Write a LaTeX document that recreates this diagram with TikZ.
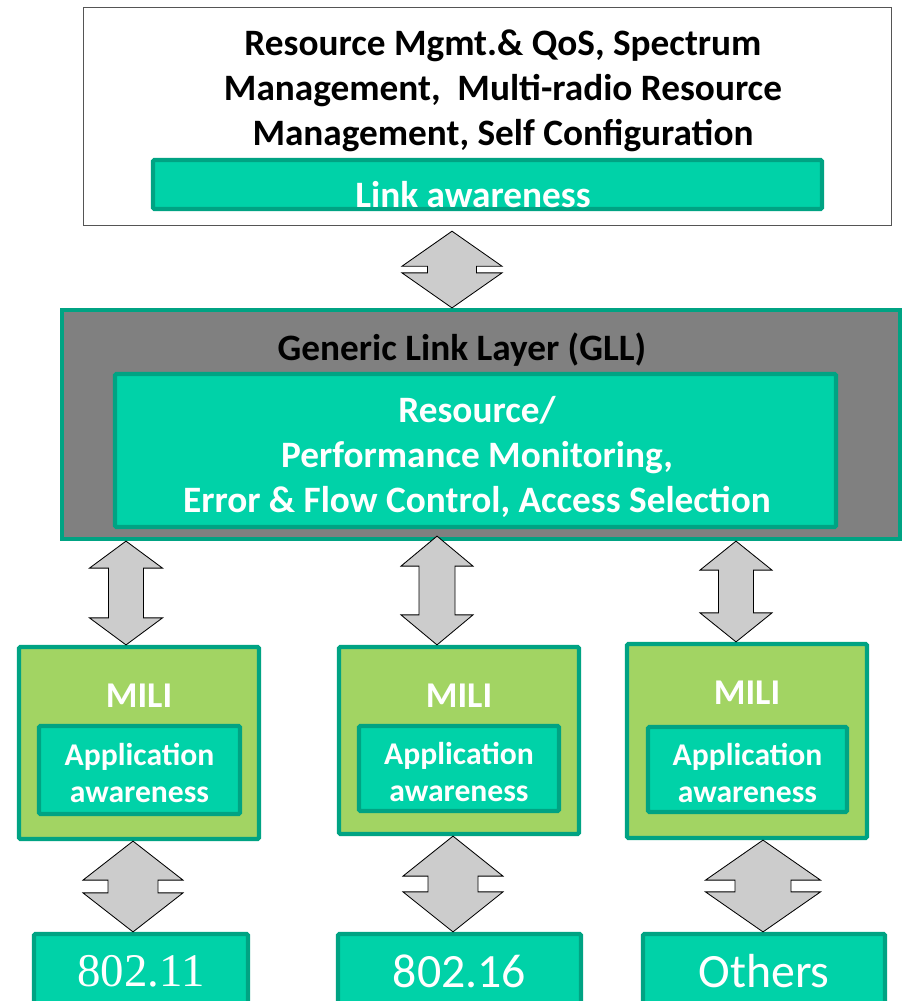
\documentclass[tikz,border=0pt]{standalone}
\usepackage{fontspec}
\setmainfont{Carlito}
\newfontfamily\timesfont{Liberation Serif}
\usetikzlibrary{positioning,calc}

\definecolor{tealfill}{HTML}{00D2A8}
\definecolor{tealdark}{HTML}{00A383}
\definecolor{miligreen}{HTML}{A2D463}
\definecolor{gllgrey}{HTML}{808080}
\definecolor{arrowgrey}{HTML}{CCCCCC}
\definecolor{frameline}{HTML}{555555}

\newdimen\pxu
\pxu=0.025cm

% block double arrow from (#1) down to (#2): half head, head length, half shaft
\newcommand{\dblarrow}[5]{%
  \coordinate (s) at (#1);
  \coordinate (e) at (#2);
  \filldraw[arrowfill] (s) -- ($(s)+(#3,#4)$) -- ($(s)+(#5,#4)$) -- ($(e)+(#5,-#4)$)
    -- ($(e)+(#3,-#4)$) -- (e) -- ($(e)+(-#3,-#4)$) -- ($(e)+(-#5,-#4)$)
    -- ($(s)+(-#5,#4)$) -- ($(s)+(-#3,#4)$) -- cycle;}

\begin{document}
\begin{tikzpicture}[x=0.025cm, y=-0.025cm,
  tealbox/.style={draw=tealdark, fill=tealfill, line width=3pt, rounded corners=1pt, inner sep=0pt},
  milibox/.style={draw=tealdark, fill=miligreen, line width=3pt, rounded corners=1pt, inner sep=0pt},
  arrowfill/.style={fill=arrowgrey, draw=black, line width=0.6pt},
  bigtext/.style={font=\bfseries\fontsize{26.5}{32}\selectfont, align=center},
  militext/.style={text=white, font=\bfseries\fontsize{25.8}{30}\selectfont},
  smalltext/.style={text=white, font=\bfseries\fontsize{22.5}{26.3}\selectfont, align=center},
  stdtext/.style={text=white, font=\fontsize{34}{40}\selectfont}]
\useasboundingbox (0,0) rectangle (905,1001);
\clip (0,0) rectangle (905,1001);

% top layer
\node[draw=frameline, line width=1pt, minimum width=808\pxu, minimum height=218\pxu, inner sep=0pt] (top) at (487.5,116.5) {};
\node[bigtext] (mgmt) at (503,91) {Resource Mgmt.\& QoS, Spectrum\\Management,\ \ Multi-radio Resource\\Management, Self Configuration};
\node[tealbox, minimum width=669\pxu, minimum height=49\pxu] (link) at (487.5,184.5) {};
\node[bigtext, text=white] (linktxt) at (473,195) {Link awareness};

% generic link layer
\node[draw=tealdark, fill=gllgrey, line width=3pt, minimum width=838\pxu, minimum height=229\pxu, inner sep=0pt] (gll) at (481,424.5) {};
\node[bigtext] (glltxt) at (462,350) {Generic Link Layer (GLL)};
\node[tealbox, minimum width=721\pxu, minimum height=153\pxu] (mon) at (475.5,450.5) {};
\node[bigtext, text=white] (montxt) at (477,457) {Resource/\\Performance Monitoring,\\Error \& Flow Control, Access Selection};

% MILI boxes
\node[milibox, minimum width=240\pxu, minimum height=192\pxu] (mili1) at (139,743) {};
\node[milibox, minimum width=240\pxu, minimum height=187\pxu] (mili2) at (459,740.5) {};
\node[milibox, minimum width=240\pxu, minimum height=194\pxu] (mili3) at (747,741) {};
\node[militext] (mtxt1) at (139,696) {MILI};
\node[militext] (mtxt2) at (459,696) {MILI};
\node[militext] (mtxt3) at (747,693) {MILI};
\node[tealbox, minimum width=201\pxu, minimum height=88\pxu] (app1) at (139.5,770) {};
\node[tealbox, minimum width=200\pxu, minimum height=85\pxu] (app2) at (459,768.5) {};
\node[tealbox, minimum width=199\pxu, minimum height=85\pxu] (app3) at (747.5,769.5) {};
\node[smalltext] (atxt1) at (139.5,773) {Application\\awareness};
\node[smalltext] (atxt2) at (459,772) {Application\\awareness};
\node[smalltext] (atxt3) at (747.5,773) {Application\\awareness};

% radio technologies
\node[tealbox, text=white, font=\timesfont\fontsize{33.3}{38}\selectfont, minimum width=214\pxu, minimum height=74\pxu] (r1) at (141,971) {802.11};
\node[tealbox, stdtext, minimum width=243\pxu, minimum height=74\pxu] (r2) at (459.5,971) {802.16};
\node[tealbox, stdtext, minimum width=242\pxu, minimum height=74\pxu] (r3) at (764,971) {Others};

% arrows
\dblarrow{$(top.south -| 452,0)+(0,5)$}{gll.north -| 452,0}{50}{35}{24.5}
\dblarrow{gll.south -| 126,0}{mili1.north -| 126,0}{36.5}{27}{17.5}
\dblarrow{$(gll.south -| 437,0)+(0,-5)$}{mili2.north -| 437,0}{36}{30}{18}
\dblarrow{gll.south -| 736,0}{mili3.north -| 736,0}{36}{29}{17.5}
\dblarrow{mili1.south -| 133,0}{r1.north -| 133,0}{50}{39}{25}
\dblarrow{mili2.south -| 453,0}{r2.north -| 453,0}{50}{40}{25}
\dblarrow{mili3.south -| 763,0}{r3.north -| 763,0}{57.5}{40}{28}
\end{tikzpicture}
\end{document}
